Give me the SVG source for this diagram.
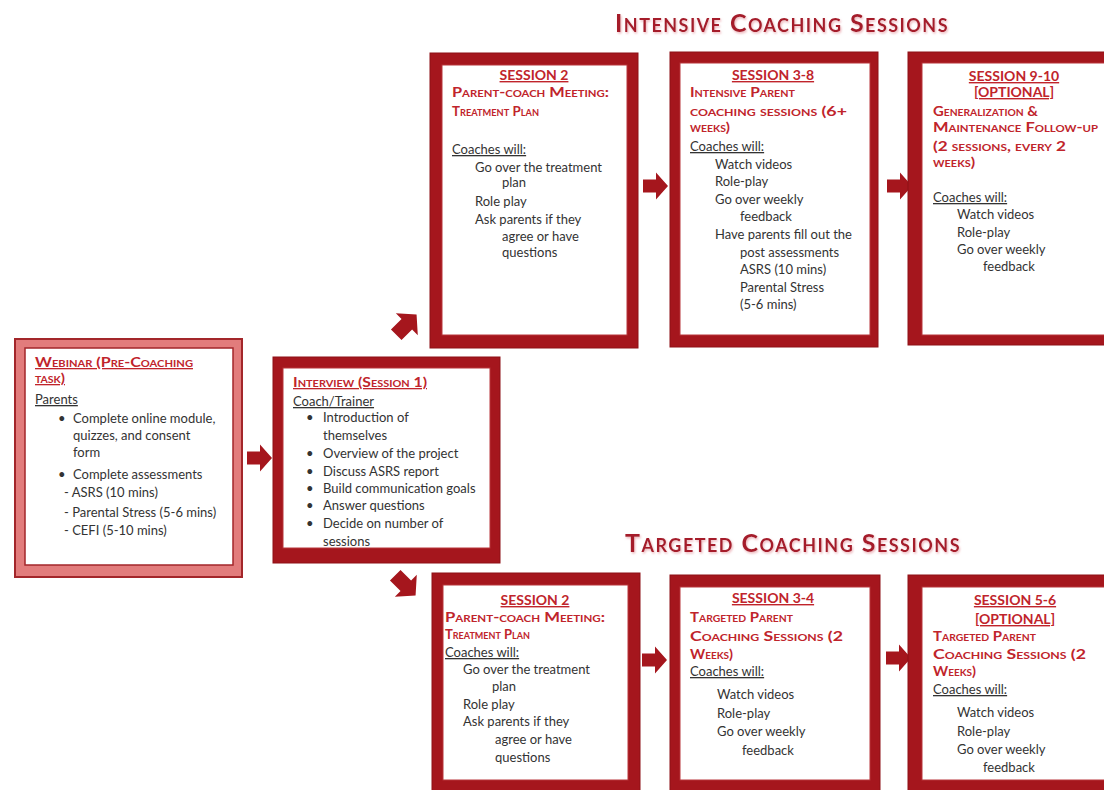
<svg xmlns="http://www.w3.org/2000/svg" width="1104" height="790" viewBox="0 0 1104 790">
<style>
.bg{fill:#fff}
.frame{fill:#a5161d;stroke:#8e1016;stroke-width:1}
.inner{fill:#fff;stroke:#b8343a;stroke-width:1}
.pframe{fill:#e27c7c;stroke:#a3262a;stroke-width:2}
.pinner{fill:#fff;stroke:#a3262a;stroke-width:1.5}
text{font-family:Lato,"Liberation Sans",sans-serif}
.h{font-weight:bold;fill:#c0242b;font-size:13px;font-variant:small-caps}
.s{font-weight:bold;fill:#c0242b;font-size:14px;text-decoration:underline}
.b{font-size:13px;fill:#333}
.u{text-decoration:underline}
.title{font-weight:bold;fill:#a51b2c;font-size:25px;font-variant:small-caps;letter-spacing:0.5px}
.arr{fill:#a5161d}
</style>
<defs>
<path id="ar" d="M-12,-6.5 L1,-6.5 L1,-13.5 L13,0 L1,13.5 L1,6.5 L-12,6.5 Z"/>
<filter id="sh" x="-5%" y="-30%" width="110%" height="160%">
<feDropShadow dx="1" dy="1.5" stdDeviation="1" flood-color="#e8a0a8" flood-opacity="0.8"/>
</filter>
</defs>
<rect class="bg" x="0" y="0" width="1104" height="790"/>

<text class="title" x="615" y="32" textLength="333" filter="url(#sh)">Intensive Coaching Sessions</text>
<text class="title" x="625" y="552" textLength="335" filter="url(#sh)">Targeted Coaching Sessions</text>

<g id="connectors">
<use href="#ar" class="arr" transform="translate(259,458)"/>
<use href="#ar" class="arr" transform="translate(406,325) rotate(-45) scale(1.15)"/>
<use href="#ar" class="arr" transform="translate(405,585) rotate(45) scale(1.15)"/>
<use href="#ar" class="arr" transform="translate(655,186)"/>
<use href="#ar" class="arr" transform="translate(899,186)"/>
<use href="#ar" class="arr" transform="translate(654,660)"/>
<use href="#ar" class="arr" transform="translate(898,658)"/>
</g>

<g id="webinar">
<rect class="pframe" x="15" y="339" width="227" height="238"/>
<rect class="pinner" x="25" y="348" width="208" height="217"/>
<text class="h u" x="35" y="367" textLength="158" lengthAdjust="spacingAndGlyphs">Webinar (Pre-Coaching</text>
<text class="h u" x="35" y="383" textLength="30" lengthAdjust="spacingAndGlyphs">task)</text>
<text class="b u" x="35" y="404">Parents</text>
<text class="b" x="58" y="423">•</text>
<text class="b" x="73" y="423">Complete online module,</text>
<text class="b" x="73" y="440">quizzes, and consent</text>
<text class="b" x="73" y="457">form</text>
<text class="b" x="58" y="479">•</text>
<text class="b" x="73" y="479">Complete assessments</text>
<text class="b" x="64" y="497">- ASRS (10 mins)</text>
<text class="b" x="64" y="517">- Parental Stress (5-6 mins)</text>
<text class="b" x="64" y="535">- CEFI (5-10 mins)</text>
</g>

<g id="interview">
<rect class="frame" x="273" y="357" width="227" height="206"/>
<rect class="inner" x="283" y="368" width="207" height="180"/>
<text class="h u" x="293" y="387" textLength="134" lengthAdjust="spacingAndGlyphs">Interview (Session 1)</text>
<text class="b u" x="293" y="406">Coach/Trainer</text>
<text class="b" x="306" y="422">•</text><text class="b" x="323" y="422">Introduction of</text>
<text class="b" x="323" y="440">themselves</text>
<text class="b" x="306" y="458">•</text><text class="b" x="323" y="458">Overview of the project</text>
<text class="b" x="306" y="476">•</text><text class="b" x="323" y="476">Discuss ASRS report</text>
<text class="b" x="306" y="493">•</text><text class="b" x="323" y="493">Build communication goals</text>
<text class="b" x="306" y="510">•</text><text class="b" x="323" y="510">Answer questions</text>
<text class="b" x="306" y="528">•</text><text class="b" x="323" y="528">Decide on number of</text>
<text class="b" x="323" y="546">sessions</text>
</g>

<g id="intensive-session-2">
<rect class="frame" x="430" y="53" width="208" height="295"/>
<rect class="inner" x="442" y="65" width="185" height="270"/>
<text class="s" x="534" y="80" text-anchor="middle">SESSION 2</text>
<text class="h" x="452" y="97" textLength="157" lengthAdjust="spacingAndGlyphs">Parent-coach Meeting:</text>
<text class="h" x="452" y="116" textLength="87" lengthAdjust="spacingAndGlyphs">Treatment Plan</text>
<text class="b u" x="452" y="154">Coaches will:</text>
<text class="b" x="475" y="172">Go over the treatment</text>
<text class="b" x="502" y="187">plan</text>
<text class="b" x="475" y="206">Role play</text>
<text class="b" x="475" y="224">Ask parents if they</text>
<text class="b" x="502" y="241">agree or have</text>
<text class="b" x="502" y="257">questions</text>
</g>

<g id="intensive-session-3-8">
<rect class="frame" x="670" y="52" width="208" height="295"/>
<rect class="inner" x="680" y="63" width="190" height="272"/>
<text class="s" x="773" y="80" text-anchor="middle">SESSION 3-8</text>
<text class="h" x="690" y="97" textLength="105" lengthAdjust="spacingAndGlyphs">Intensive Parent</text>
<text class="h" x="690" y="116" textLength="157" lengthAdjust="spacingAndGlyphs">coaching sessions (6+</text>
<text class="h" x="690" y="132" textLength="40" lengthAdjust="spacingAndGlyphs">weeks)</text>
<text class="b u" x="690" y="151">Coaches will:</text>
<text class="b" x="715" y="169">Watch videos</text>
<text class="b" x="715" y="186">Role-play</text>
<text class="b" x="715" y="204">Go over weekly</text>
<text class="b" x="740" y="221">feedback</text>
<text class="b" x="715" y="239">Have parents fill out the</text>
<text class="b" x="740" y="257">post assessments</text>
<text class="b" x="740" y="274">ASRS (10 mins)</text>
<text class="b" x="740" y="292">Parental Stress</text>
<text class="b" x="740" y="309">(5-6 mins)</text>
</g>

<g id="intensive-session-9-10">
<rect class="frame" x="908" y="52" width="210" height="293"/>
<rect class="inner" x="922" y="63" width="190" height="272"/>
<text class="s" x="1014" y="81" text-anchor="middle">SESSION 9-10</text>
<text class="s" x="1014" y="97" text-anchor="middle">[OPTIONAL]</text>
<text class="h" x="933" y="116" textLength="105" lengthAdjust="spacingAndGlyphs">Generalization &amp;</text>
<text class="h" x="933" y="132" textLength="165" lengthAdjust="spacingAndGlyphs">Maintenance Follow-up</text>
<text class="h" x="933" y="151" textLength="133" lengthAdjust="spacingAndGlyphs">(2 sessions, every 2</text>
<text class="h" x="933" y="167" textLength="42" lengthAdjust="spacingAndGlyphs">weeks)</text>
<text class="b u" x="933" y="202">Coaches will:</text>
<text class="b" x="957" y="219">Watch videos</text>
<text class="b" x="957" y="237">Role-play</text>
<text class="b" x="957" y="254">Go over weekly</text>
<text class="b" x="983" y="271">feedback</text>
</g>

<g id="targeted-session-2">
<rect class="frame" x="432" y="573" width="208" height="230"/>
<rect class="inner" x="443" y="585" width="185" height="195"/>
<text class="s" x="535" y="605" text-anchor="middle">SESSION 2</text>
<text class="h" x="445" y="622" textLength="160" lengthAdjust="spacingAndGlyphs">Parent-coach Meeting:</text>
<text class="h" x="445" y="639" textLength="85" lengthAdjust="spacingAndGlyphs">Treatment Plan</text>
<text class="b u" x="445" y="657">Coaches will:</text>
<text class="b" x="463" y="674">Go over the treatment</text>
<text class="b" x="492" y="691">plan</text>
<text class="b" x="463" y="709">Role play</text>
<text class="b" x="463" y="726">Ask parents if they</text>
<text class="b" x="495" y="744">agree or have</text>
<text class="b" x="495" y="762">questions</text>
</g>

<g id="targeted-session-3-4">
<rect class="frame" x="670" y="575" width="210" height="228"/>
<rect class="inner" x="680" y="587" width="190" height="193"/>
<text class="s" x="773" y="603" text-anchor="middle">SESSION 3-4</text>
<text class="h" x="690" y="622" textLength="103" lengthAdjust="spacingAndGlyphs">Targeted Parent</text>
<text class="h" x="690" y="641" textLength="153" lengthAdjust="spacingAndGlyphs">Coaching Sessions (2</text>
<text class="h" x="690" y="659" textLength="43" lengthAdjust="spacingAndGlyphs">Weeks)</text>
<text class="b u" x="690" y="676">Coaches will:</text>
<text class="b" x="717" y="699">Watch videos</text>
<text class="b" x="717" y="718">Role-play</text>
<text class="b" x="717" y="736">Go over weekly</text>
<text class="b" x="742" y="755">feedback</text>
</g>

<g id="targeted-session-5-6">
<rect class="frame" x="908" y="575" width="210" height="228"/>
<rect class="inner" x="922" y="587" width="190" height="193"/>
<text class="s" x="1015" y="605" text-anchor="middle">SESSION 5-6</text>
<text class="s" x="1015" y="624" text-anchor="middle">[OPTIONAL]</text>
<text class="h" x="933" y="641" textLength="103" lengthAdjust="spacingAndGlyphs">Targeted Parent</text>
<text class="h" x="933" y="659" textLength="153" lengthAdjust="spacingAndGlyphs">Coaching Sessions (2</text>
<text class="h" x="933" y="676" textLength="43" lengthAdjust="spacingAndGlyphs">Weeks)</text>
<text class="b u" x="933" y="694">Coaches will:</text>
<text class="b" x="957" y="717">Watch videos</text>
<text class="b" x="957" y="736">Role-play</text>
<text class="b" x="957" y="754">Go over weekly</text>
<text class="b" x="983" y="772">feedback</text>
</g>
</svg>
